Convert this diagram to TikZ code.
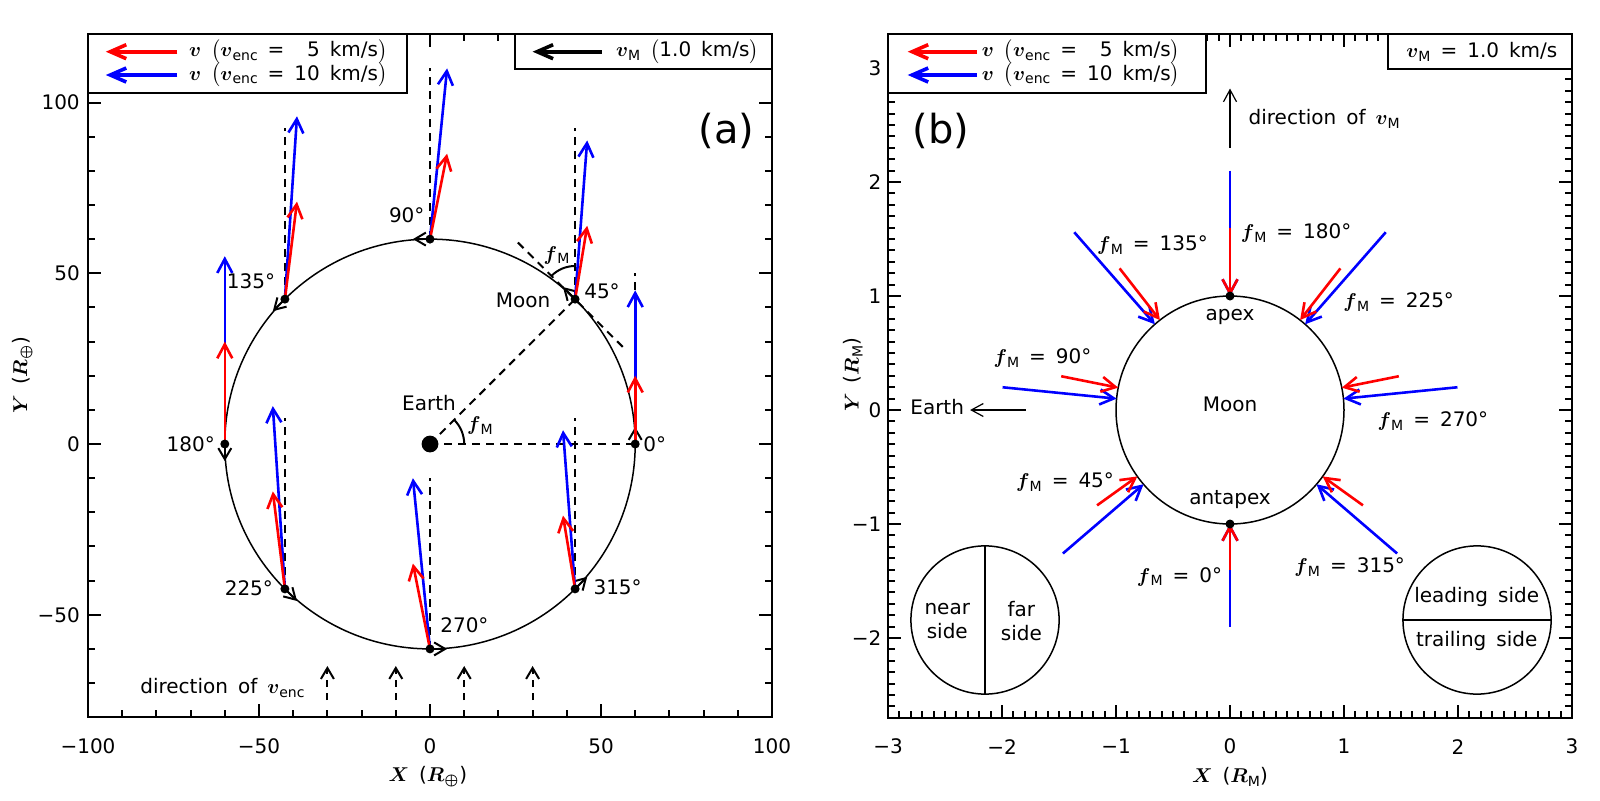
\documentclass[tikz,border=0pt]{standalone}
\usepackage{fontspec}
\setmainfont{DejaVu Sans}
\usetikzlibrary{arrows.meta}
\newcommand{\sbs}[1]{\raisebox{-0.35ex}{\fontsize{7pt}{7pt}\selectfont #1}}
\newcommand{\myv}{{\boldmath$v$}}
\newcommand{\myfM}{{\boldmath$f$}\sbs{M}}
\newcommand{\wsp}{\hspace{0.5em}}
\newcommand{\legtext}[1]{\myv\wsp$\bigl($\myv\sbs{enc}\wsp=\wsp#1\wsp km/s$\bigr)$}
\begin{document}
\begin{tikzpicture}[x=0.5pt,y=-0.5pt,
  every node/.style={font=\fontsize{10pt}{12pt}\selectfont, inner sep=0pt},
  frame/.style={line width=1pt},
  tick/.style={line width=1pt},
  dashln/.style={line width=1pt, dash pattern=on 4pt off 3pt},
  varr/.style={line width=1.3pt, -{Straight Barb[length=7pt,width=7.5pt]}},
  marr/.style={line width=1pt, -{Straight Barb[length=5.5pt,width=6.5pt]}},
  larr/.style={line width=1.8pt, -{Straight Barb[length=8pt,width=7pt]}},
  thinarr/.style={line width=0.6pt, -{Straight Barb[length=6pt,width=6.5pt]}},
  big/.style={font=\fontsize{20pt}{24pt}\selectfont}
]
\fill[white] (0,0) rectangle (1600,800);
\useasboundingbox (0,0) rectangle (1600,800);

%================ PANEL A =================
\begin{scope}[shift={(430,444)}, x=1.71pt, y=1.7075pt]
  \foreach \x in {-90,-80,...,90} {
    \draw[tick] (\x,-80) -- ++(0,2.05);
    \draw[tick] (\x,120) -- ++(0,-2.05);
  }
  \foreach \x in {-50,0,50} {
    \draw[tick] (\x,-80) -- ++(0,3.8);
    \draw[tick] (\x,120) -- ++(0,-3.8);
  }
  \foreach \y in {-70,-60,...,110} {
    \draw[tick] (-100,\y) -- ++(2.05,0);
    \draw[tick] (100,\y) -- ++(-2.05,0);
  }
  \foreach \y in {-50,0,50,100} {
    \draw[tick] (-100,\y) -- ++(3.8,0);
    \draw[tick] (100,\y) -- ++(-3.8,0);
  }
  \draw[frame] (-100,-80) rectangle (100,120);
  \foreach \x/\l in {-100/−100,-50/−50,0/0,50/50,100/100}
    \node (ax\x) at (\x,-88.6) {\l};
  \foreach \y/\l in {-50/−50,0/0,50/50,100/100}
    \node[anchor=east] (ay\y) at (-102.3,\y) {\l};
  \node (axt) at (-0.6,-97.4) {{\boldmath$X$}\wsp({\boldmath$R_\oplus$})};
  \node[rotate=90] (ayt) at (-119.2,20.2) {{\boldmath$Y$}\wsp({\boldmath$R_\oplus$})};

  % orbit
  \draw[line width=0.75pt] (0,0) circle[radius=60];
  % dashed construction lines
  \draw[dashln] (0,0) -- (60,0);
  \draw[dashln] (0,0) -- (45:60);
  \draw[dashln] (25.7,59.0) -- (56.5,28.3);
  \foreach \t in {0,45,...,315} \draw[dashln] (\t:60) -- ++(0,50);
  % angle arcs
  \draw[line width=1pt] (10,0) arc[start angle=0,end angle=45,radius=10];
  \draw[line width=1pt] (42.43,52.13) arc[start angle=90,end angle=135,radius=9.7];
  % orbital velocity arrows
  \foreach \t in {0,45,...,315} \draw[marr] (\t:60) -- ++(\t+90:5);
  % impactor velocity arrows
  \foreach \t in {0,45,...,315}
    \draw[varr,blue] (\t:60) -- ++({5*sin(\t)},{5*(10-cos(\t))});
  \foreach \t in {0,45,...,315}
    \draw[varr,red] (\t:60) -- ++({5*sin(\t)},{5*(5-cos(\t))});
  % dots
  \foreach \t in {0,45,...,315} \fill (\t:60) circle[radius=2.25pt];
  \fill (0,0) circle[radius=4.2pt];
  % labels
  \node[anchor=west] (l0) at (62.3,0) {0°};
  \node[anchor=west] (l45) at (45,44.6) {45°};
  \node[anchor=east] (l90) at (-1.5,66.9) {90°};
  \node[anchor=east] (l135) at (-45.2,47.8) {135°};
  \node[anchor=east] (l180) at (-62.8,0) {180°};
  \node[anchor=east] (l225) at (-45.8,-42.3) {225°};
  \node[anchor=west] (l270) at (2.9,-53) {270°};
  \node[anchor=west] (l315) at (47.7,-41.8) {315°};
  \node (moonlab) at (27.2,42.2) {Moon};
  \node (earthlab) at (-0.3,12) {Earth};
  \node (fm1) at (37,55.3) {\myfM};
  \node (fm2) at (14.6,5.3) {\myfM};
  % direction of v_enc
  \foreach \x in {-30,-10,10,30}
    \draw[marr, dash pattern=on 3.5pt off 3pt] (\x,-75) -- (\x,-65);
  \node[anchor=base west] (dirv) at (-84.8,-73) {direction\wsp of\wsp\myv\sbs{enc}};
  \node[big] (pa) at (86.7,91.8) {(a)};
\end{scope}

%================ PANEL B =================
\begin{scope}[shift={(1230,410)}, x=57pt, y=57pt]
  \foreach \i in {-29,...,29} {
    \draw[tick] (\i/10,-2.7) -- ++(0,0.0614);
    \draw[tick] (\i/10,3.3) -- ++(0,-0.0614);
  }
  \foreach \i in {-2,...,2} {
    \draw[tick] (\i,-2.7) -- ++(0,0.114);
    \draw[tick] (\i,3.3) -- ++(0,-0.114);
  }
  \foreach \i in {-26,...,32} {
    \draw[tick] (-3,\i/10) -- ++(0.0614,0);
    \draw[tick] (3,\i/10) -- ++(-0.0614,0);
  }
  \foreach \i in {-2,...,3} {
    \draw[tick] (-3,\i) -- ++(0.114,0);
    \draw[tick] (3,\i) -- ++(-0.114,0);
  }
  \draw[frame] (-3,-2.7) rectangle (3,3.3);
  \foreach \x/\l in {-3/−3,-2/−2,-1/−1,0/0,1/1,2/2,3/3}
    \node (bx\x) at (\x,-2.953) {\l};
  \foreach \y/\l in {-2/−2,-1/−1,0/0,1/1,2/2,3/3}
    \node[anchor=east] (by\y) at (-3.055,\y) {\l};
  \node (bxt) at (0,-3.217) {{\boldmath$X$}\wsp({\boldmath$R$}\sbs{M})};
  \node[rotate=90] (byt) at (-3.307,0.307) {{\boldmath$Y$}\wsp({\boldmath$R$}\sbs{M})};

  % Moon
  \draw[line width=0.75pt] (0,0) circle[radius=1];
  \foreach \t in {0,45,...,315} {
    \foreach \V/\c in {10/blue,5/red} {
      \pgfmathsetmacro\vx{\V*sin(\t)}
      \pgfmathsetmacro\vy{\V*cos(\t)-1}
      \pgfmathsetmacro\nrm{sqrt(\vx*\vx+\vy*\vy)}
      \draw[varr,\c] ({-\vx/\nrm-0.1*\vx},{-\vy/\nrm-0.1*\vy}) -- ({-\vx/\nrm},{-\vy/\nrm});
    }
  }
  \fill (0,1) circle[radius=2.25pt];
  \fill (0,-1) circle[radius=2.25pt];
  \node (apex) at (0,0.82) {apex};
  \node (antapex) at (0,-0.783) {antapex};
  \node (bmoon) at (0,0.05) {Moon};
  \node (f135) at (-0.68,1.447) {\myfM\wsp=\wsp135°};
  \node (f180) at (0.58,1.55) {\myfM\wsp=\wsp180°};
  \node (f225) at (1.48,0.95) {\myfM\wsp=\wsp225°};
  \node (f90) at (-1.645,0.453) {\myfM\wsp=\wsp90°};
  \node (f270) at (1.78,-0.10) {\myfM\wsp=\wsp270°};
  \node (f45) at (-1.447,-0.63) {\myfM\wsp=\wsp45°};
  \node (f0) at (-0.443,-1.462) {\myfM\wsp=\wsp0°};
  \node (f315) at (1.05,-1.375) {\myfM\wsp=\wsp315°};
  % Earth direction
  \node[anchor=east] (bearth) at (-2.33,0.03) {Earth};
  \coordinate (ea1) at (-1.79,0);
  \coordinate (ea2) at (-2.28,0);
  \draw[thinarr] (ea1) -- (ea2);
  % direction of v_M
  \coordinate (dv1) at (0,2.30);
  \coordinate (dv2) at (0,2.82);
  \draw[thinarr] (dv1) -- (dv2);
  \node[anchor=west] (dirvm) at (0.16,2.55) {direction\wsp of\wsp\myv\sbs{M}};
  % hemisphere sketches
  \draw[line width=0.75pt] (-2.149,-1.842) circle[radius=0.65];
  \draw[line width=0.75pt] (-2.149,-1.192) -- (-2.149,-2.492);
  \node[align=center] (nears) at (-2.48,-1.847) {near\\side};
  \node[align=center] (fars) at (-1.83,-1.847) {far\\side};
  \draw[line width=0.75pt] (2.167,-1.842) circle[radius=0.65];
  \draw[line width=0.75pt] (1.517,-1.842) -- (2.817,-1.842);
  \node (leads) at (2.164,-1.638) {leading\wsp side};
  \node (trails) at (2.164,-2.03) {trailing\wsp side};
  \node[big] (pb) at ({(940.8-1230)/114},{(410-130.6)/114}) {(b)};
\end{scope}

%================ LEGENDS =================
\draw[frame, fill=white] (88,34) rectangle (406.6,92.7);
\draw[larr, red] (177.3,51.7) -- (105.8,51.7);
\draw[larr, blue] (177.3,75) -- (105.8,75);
\node[anchor=west] (lga1) at (188.8,51.7) {\legtext{\phantom{1}5}};
\node[anchor=west] (lga2) at (188.8,75) {\legtext{10}};
\draw[frame, fill=white] (515,34) rectangle (772,69.3);
\draw[larr] (601.8,51.7) -- (532.6,51.7);
\node[anchor=west] (lga3) at (615.7,51.7) {\myv\sbs{M}\wsp$\bigl($1.0\wsp km/s$\bigr)$};

\draw[frame, fill=white] (888,34) rectangle (1206.3,92.7);
\draw[larr, red] (977,51.7) -- (907.7,51.7);
\draw[larr, blue] (977,75) -- (907.7,75);
\node[anchor=west] (lgb1) at (981.5,51.7) {\legtext{\phantom{1}5}};
\node[anchor=west] (lgb2) at (981.5,75) {\legtext{10}};
\draw[frame, fill=white] (1387.6,34) rectangle (1572,69);
\node[anchor=west] (lgb3) at (1406,51.5) {\myv\sbs{M}\wsp=\wsp1.0\wsp km/s};
\end{tikzpicture}
\end{document}
